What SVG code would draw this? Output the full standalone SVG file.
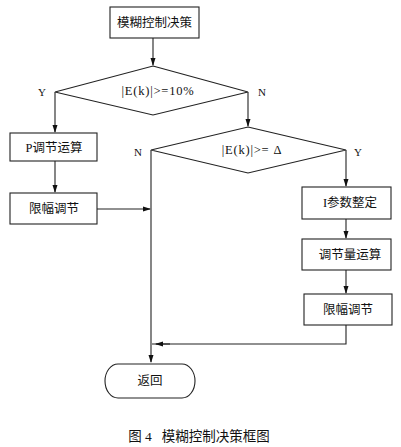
<svg xmlns="http://www.w3.org/2000/svg" width="401" height="447" viewBox="0 0 401 447">
<defs>
<marker id="ah" markerWidth="8" markerHeight="6" refX="7" refY="3" orient="auto" markerUnits="userSpaceOnUse">
<path d="M0,0.5 L8,3 L0,5.5 Z" fill="#111"/>
</marker>
<style>
.s{fill:#fff;stroke:#222;stroke-width:1.1}
.c{fill:none;stroke:#222;stroke-width:1.1}
.t{font-family:"Liberation Serif","Noto Sans CJK SC",serif;font-size:12.5px;fill:#111;text-anchor:middle;dominant-baseline:central}
.f{letter-spacing:0.8px}
.l{font-family:"Liberation Serif",serif;font-size:11px;fill:#111;text-anchor:middle;dominant-baseline:central}
</style>
</defs>
<rect width="401" height="447" fill="#fff"/>
<g id="connectors">
<path class="c" d="M153,38 V65" marker-end="url(#ah)"/>
<path class="c" d="M55,92 V132" marker-end="url(#ah)"/>
<path class="c" d="M55,161 V192" marker-end="url(#ah)"/>
<path class="c" d="M97,209 H150" marker-end="url(#ah)"/>
<path class="c" d="M248,92 V126" marker-end="url(#ah)"/>
<path class="c" d="M151,150 V362" marker-end="url(#ah)"/>
<path class="c" d="M346,150 V186" marker-end="url(#ah)"/>
<path class="c" d="M346,219 V238" marker-end="url(#ah)"/>
<path class="c" d="M346,270 V293" marker-end="url(#ah)"/>
<path class="c" d="M346,325 V344 H152"/>
<path class="c" d="M170,344 H156" marker-end="url(#ah)"/>
<text class="l" x="42" y="92">Y</text>
<text class="l" x="262" y="92">N</text>
<text class="l" x="138" y="152">N</text>
<text class="l" x="358" y="152">Y</text>
</g>
<g id="start">
<rect class="s" x="110" y="7" width="89" height="31"/>
<text class="t" x="154.5" y="23">模糊控制决策</text>
</g>
<g id="d1">
<path class="s" d="M153,66 L248,92 L153,115 L55,92 Z"/>
<text class="t f" x="158" y="91">|E(k)|&gt;=10%</text>
</g>
<g id="p">
<rect class="s" x="10" y="133" width="87" height="28"/>
<text class="t" x="54" y="148">P调节运算</text>
</g>
<g id="lim1">
<rect class="s" x="10" y="193" width="87" height="31"/>
<text class="t" x="54" y="209">限幅调节</text>
</g>
<g id="d2">
<path class="s" d="M248,127 L346,150 L248,173 L151,150 Z"/>
<text class="t f" x="252" y="150">|E(k)|&gt;= Δ</text>
</g>
<g id="i">
<rect class="s" x="302" y="187" width="89" height="32"/>
<text class="t" x="350" y="203">I参数整定</text>
</g>
<g id="calc">
<rect class="s" x="302" y="239" width="89" height="31"/>
<text class="t" x="350" y="255">调节量运算</text>
</g>
<g id="lim2">
<rect class="s" x="304" y="294" width="88" height="31"/>
<text class="t" x="348" y="310">限幅调节</text>
</g>
<g id="ret">
<path class="s" d="M118,364 H182 A13,17 0 0 1 182,398 H118 A13,17 0 0 1 118,364 Z"/>
<text class="t" x="150" y="381">返回</text>
</g>
<text x="199" y="436" style="font-family:'Liberation Serif','Noto Sans CJK SC',serif;font-size:13.5px;fill:#111;text-anchor:middle;dominant-baseline:central;white-space:pre" xml:space="preserve">图 4   模糊控制决策框图</text>
</svg>
